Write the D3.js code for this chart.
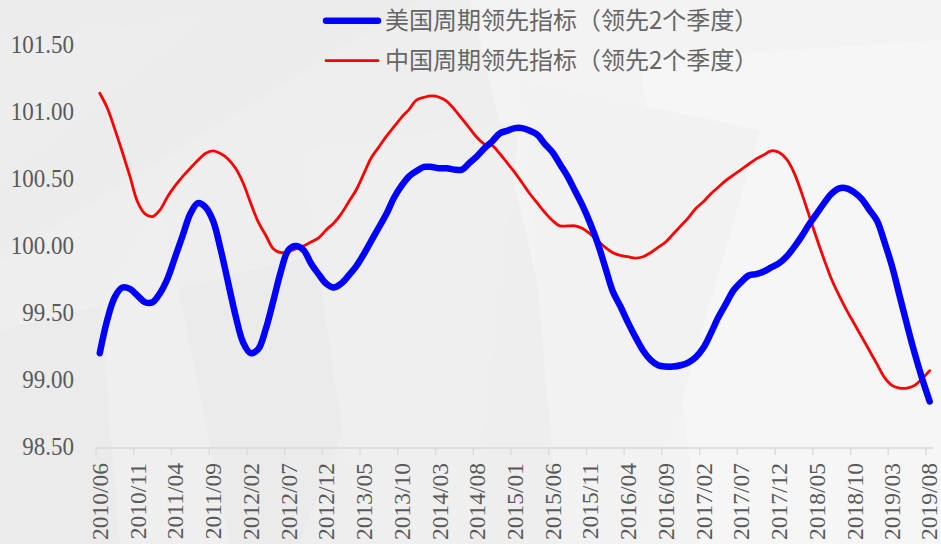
<!DOCTYPE html>
<html><head><meta charset="utf-8">
<script src="https://cdn.jsdelivr.net/npm/d3@7"></script>
<style>html,body{margin:0;padding:0;background:#f0f0f0;}svg{display:block;}</style>
</head><body>
<svg id="chart" width="941" height="544"></svg>
<script>
const categories = [
"2010/06","2010/07","2010/08","2010/09","2010/10","2010/11","2010/12",
"2011/01","2011/02","2011/03","2011/04","2011/05","2011/06","2011/07","2011/08","2011/09","2011/10","2011/11","2011/12",
"2012/01","2012/02","2012/03","2012/04","2012/05","2012/06","2012/07","2012/08","2012/09","2012/10","2012/11","2012/12",
"2013/01","2013/02","2013/03","2013/04","2013/05","2013/06","2013/07","2013/08","2013/09","2013/10","2013/11","2013/12",
"2014/01","2014/02","2014/03","2014/04","2014/05","2014/06","2014/07","2014/08","2014/09","2014/10","2014/11","2014/12",
"2015/01","2015/02","2015/03","2015/04","2015/05","2015/06","2015/07","2015/08","2015/09","2015/10","2015/11","2015/12",
"2016/01","2016/02","2016/03","2016/04","2016/05","2016/06","2016/07","2016/08","2016/09","2016/10","2016/11","2016/12",
"2017/01","2017/02","2017/03","2017/04","2017/05","2017/06","2017/07","2017/08","2017/09","2017/10","2017/11","2017/12",
"2018/01","2018/02","2018/03","2018/04","2018/05","2018/06","2018/07","2018/08","2018/09","2018/10","2018/11","2018/12",
"2019/01","2019/02","2019/03","2019/04","2019/05","2019/06","2019/07","2019/08"];

const usLeading = [
99.20,99.45,99.62,99.69,99.68,99.63,99.58,99.58,99.65,99.76,
99.92,100.08,100.24,100.32,100.29,100.19,99.98,99.73,99.48,99.28,
99.20,99.23,99.38,99.59,99.81,99.97,100.00,99.97,99.87,99.79,
99.72,99.69,99.72,99.78,99.85,99.94,100.04,100.14,100.24,100.36,
100.45,100.52,100.56,100.59,100.59,100.58,100.58,100.57,100.57,100.62,
100.67,100.73,100.78,100.84,100.86,100.88,100.88,100.86,100.83,100.76,
100.70,100.61,100.52,100.41,100.30,100.17,100.02,99.84,99.66,99.55,
99.43,99.32,99.22,99.15,99.11,99.10,99.10,99.11,99.13,99.17,
99.24,99.35,99.47,99.57,99.67,99.73,99.78,99.79,99.81,99.84,
99.87,99.92,99.99,100.07,100.16,100.24,100.32,100.39,100.43,100.43,
100.40,100.35,100.27,100.19,100.03,99.85,99.63,99.41,99.20,99.01,
98.84];

const cnLeading = [
101.14,101.03,100.87,100.70,100.52,100.33,100.24,100.22,100.27,100.37,
100.45,100.52,100.58,100.64,100.69,100.71,100.69,100.65,100.58,100.47,
100.32,100.18,100.08,99.98,99.95,99.96,99.98,100.00,100.03,100.06,
100.12,100.17,100.24,100.33,100.42,100.54,100.66,100.74,100.82,100.89,
100.96,101.02,101.09,101.11,101.12,101.11,101.08,101.02,100.95,100.88,
100.81,100.76,100.75,100.69,100.62,100.55,100.47,100.39,100.32,100.25,
100.19,100.15,100.15,100.15,100.13,100.09,100.04,99.99,99.95,99.93,
99.92,99.91,99.92,99.95,99.99,100.03,100.09,100.15,100.21,100.28,
100.33,100.39,100.44,100.49,100.53,100.57,100.61,100.65,100.68,100.71,
100.70,100.65,100.55,100.40,100.23,100.06,99.90,99.75,99.63,99.52,
99.42,99.32,99.22,99.12,99.02,98.96,98.94,98.94,98.96,99.01,
99.07];

const xTickLabels = ["2010/06","2010/11","2011/04","2011/09","2012/02","2012/07","2012/12",
"2013/05","2013/10","2014/03","2014/08","2015/01","2015/06","2015/11","2016/04","2016/09",
"2017/02","2017/07","2017/12","2018/05","2018/10","2019/03","2019/08"];
const yTicks = [98.5, 99.0, 99.5, 100.0, 100.5, 101.0, 101.5];
const seriesNames = ["美国周期领先指标（领先2个季度）","中国周期领先指标（领先2个季度）"];

const serifFont = "'Liberation Serif', 'Times New Roman', serif";

const svg = d3.select("#chart");
const W = 941, H = 544;

// subtle background texture
const bg = svg.append("g");
bg.append("rect").attr("width", W).attr("height", H).attr("fill", "#eeeeee");
const polys = [
  {p:[[470,0],[941,0],[941,544],[600,544]], c:"#f3f3f3"},
  {p:[[640,60],[941,40],[941,544],[700,544]], c:"#f6f6f6"},
  {p:[[0,0],[420,0],[0,260]], c:"#ececec"},
  {p:[[0,330],[420,230],[300,544],[0,544]], c:"#ebebeb"},
  {p:[[100,300],[160,200],[230,544],[120,544]], c:"#efefef"},
  {p:[[300,150],[520,120],[470,544],[360,544]], c:"#efefef"},
  {p:[[520,80],[760,130],[640,544],[560,544]], c:"#f2f2f2"},
  {p:[[0,40],[200,20],[0,180]], c:"#ededed"}
];
bg.selectAll("polygon").data(polys).join("polygon")
  .attr("points", d => d.p.map(q => q.join(",")).join(" "))
  .attr("fill", d => d.c);

const x = d3.scaleBand().domain(categories).range([96, 933.5]).padding(0);
const y = d3.scaleLinear().domain([98.5, 101.5]).range([447, 45]);
const cx = c => x(c) + x.bandwidth() / 2;

// x axis
const axisY = 448;
const gx = svg.append("g");
gx.append("line").attr("x1", 96).attr("x2", 933.5).attr("y1", axisY).attr("y2", axisY)
  .attr("stroke", "#d9d9d9").attr("stroke-width", 1.3);
gx.selectAll("line.tick").data(xTickLabels).join("line").attr("class","tick")
  .attr("x1", d => x(d)).attr("x2", d => x(d))
  .attr("y1", axisY).attr("y2", axisY + 7)
  .attr("stroke", "#d9d9d9").attr("stroke-width", 1.3);
gx.selectAll("text").data(xTickLabels).join("text")
  .attr("transform", d => `translate(${Math.min(cx(d) + 0.5, 929)},${463}) rotate(-90)`)
  .attr("text-anchor", "end")
  .attr("dy", "0.33em")
  .style("font-family", serifFont)
  .attr("font-size", 23.5)
  .attr("fill", "#595959")
  .text(d => d);

// y axis labels
const gy = svg.append("g");
gy.selectAll("g").data(yTicks).join("g")
  .attr("transform", d => `translate(74,${y(d)}) scale(0.92,1)`)
  .append("text")
  .attr("text-anchor", "end").attr("dy", "0.33em")
  .style("font-family", serifFont)
  .attr("font-size", 25)
  .attr("fill", "#595959")
  .text(d => d3.format(".2f")(d));

// lines
const line = d3.line().x((d, i) => cx(categories[i])).y(d => y(d)).curve(d3.curveCatmullRom.alpha(0.5));
svg.append("path").datum(cnLeading).attr("d", line)
  .attr("fill", "none").attr("stroke", "#ff0000").attr("stroke-width", 2.8)
  .attr("stroke-linejoin", "round").attr("stroke-linecap", "round");
svg.append("path").datum(usLeading).attr("d", line)
  .attr("fill", "none").attr("stroke", "#0000ff").attr("stroke-width", 6.5)
  .attr("stroke-linejoin", "round").attr("stroke-linecap", "round");

// legend
const legend = [
  {name: seriesNames[0], color: "#0000ff", w: 6.5, y: 20.7},
  {name: seriesNames[1], color: "#ff0000", w: 2.8, y: 60.7}
];
const lg = svg.append("g");
const items = lg.selectAll("g").data(legend).join("g");
items.append("line").attr("x1", 326).attr("x2", 378).attr("y1", d => d.y).attr("y2", d => d.y)
  .attr("stroke", d => d.color).attr("stroke-width", d => d.w).attr("stroke-linecap", "round");
items.append("text").attr("x", 385).attr("y", d => d.y).attr("dy", "0.35em")
  .style("font-family", "'Noto Sans CJK SC', 'Noto Sans', sans-serif")
  .attr("font-size", 24).attr("fill", "#666666")
  .text(d => d.name);
</script>
</body></html>
